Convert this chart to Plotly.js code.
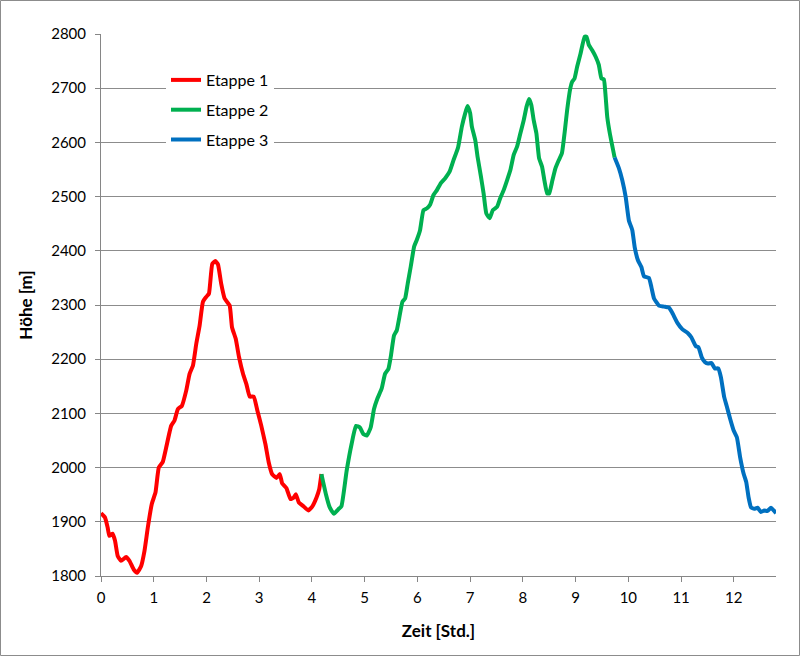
<!DOCTYPE html>
<html>
<head>
<meta charset="utf-8">
<script src="https://cdn.plot.ly/plotly-3.0.1.min.js"></script>
<style>
html,body{margin:0;padding:0;background:#fff;}
#chart{width:800px;height:656px;}
</style>
</head>
<body>
<div id="chart"></div>
<script>
// Etappe 1
const etappe1Zeit = [0.0,0.076,0.127,0.158,0.22,0.266,0.317,0.38,0.475,0.54,0.62,0.684,0.76,0.824,0.887,0.963,1.033,1.096,1.17,1.236,1.33,1.394,1.458,1.534,1.616,1.68,1.743,1.806,1.87,1.933,1.996,2.047,2.11,2.167,2.218,2.28,2.345,2.44,2.484,2.554,2.617,2.693,2.757,2.82,2.896,2.966,3.04,3.118,3.18,3.245,3.327,3.39,3.435,3.517,3.593,3.657,3.695,3.75,3.834,3.93,4.005,4.087,4.138,4.18];
const etappe1Hoehe = [1916,1908,1889,1874,1878,1865,1837,1828,1835,1828,1812,1806,1818,1846,1889,1933,1954,2000,2010,2037,2077,2087,2108,2114,2142,2173,2188,2228,2262,2306,2315,2321,2376,2381,2375,2339,2312,2299,2259,2238,2204,2173,2154,2131,2131,2105,2077,2043,2010,1988,1981,1988,1971,1962,1942,1945,1951,1936,1929,1921,1928,1945,1960,1988];

// Etappe 2
const etappe2Zeit = [4.18,4.265,4.34,4.417,4.5,4.56,4.658,4.753,4.835,4.91,4.974,5.04,5.114,5.177,5.24,5.323,5.386,5.45,5.494,5.557,5.608,5.67,5.716,5.767,5.817,5.874,5.938,5.988,6.05,6.115,6.177,6.24,6.305,6.37,6.444,6.527,6.61,6.68,6.77,6.843,6.907,6.95,7.0,7.033,7.097,7.14,7.205,7.255,7.306,7.37,7.43,7.51,7.57,7.636,7.7,7.763,7.826,7.89,7.953,8.016,8.07,8.117,8.16,8.205,8.256,8.307,8.364,8.408,8.46,8.5,8.56,8.617,8.68,8.74,8.8,8.84,8.9,8.935,8.98,9.03,9.094,9.17,9.207,9.25,9.315,9.38,9.44,9.49,9.536,9.57,9.6,9.65,9.74];
const etappe2Hoehe = [1988,1951,1926,1915,1923,1929,1994,2044,2077,2074,2062,2059,2074,2108,2127,2146,2173,2182,2204,2244,2253,2284,2306,2312,2340,2371,2408,2420,2438,2475,2478,2485,2503,2512,2525,2534,2546,2566,2590,2629,2654,2667,2654,2629,2604,2574,2537,2506,2469,2460,2475,2481,2497,2512,2530,2549,2577,2592,2617,2641,2666,2680,2669,2641,2617,2571,2555,2530,2506,2506,2530,2552,2567,2580,2625,2660,2700,2712,2718,2740,2764,2795,2795,2780,2770,2758,2743,2718,2716,2684,2647,2616,2572];

// Etappe 3
const etappe3Zeit = [9.74,9.822,9.885,9.95,10.01,10.075,10.12,10.18,10.247,10.297,10.39,10.437,10.487,10.58,10.68,10.77,10.83,10.93,11.026,11.13,11.197,11.28,11.33,11.39,11.45,11.514,11.577,11.64,11.704,11.755,11.818,11.87,11.93,11.995,12.058,12.12,12.185,12.236,12.28,12.325,12.388,12.45,12.515,12.578,12.64,12.705,12.755,12.8];
const etappe3Hoehe = [2572,2552,2530,2499,2456,2438,2407,2383,2370,2353,2350,2333,2312,2299,2297,2295,2286,2267,2255,2248,2240,2224,2222,2204,2195,2192,2193,2183,2183,2167,2130,2112,2090,2069,2056,2019,1989,1973,1945,1927,1924,1926,1918,1921,1920,1926,1921,1916];

const serienNamen = ["Etappe 1","Etappe 2","Etappe 3"];
const serienFarben = ["#FF0000","#00B050","#0070C0"];
const xTicks = [0,1,2,3,4,5,6,7,8,9,10,11,12];
const yTicks = [1800,1900,2000,2100,2200,2300,2400,2500,2600,2700,2800];

const xs = [etappe1Zeit, etappe2Zeit, etappe3Zeit];
const ys = [etappe1Hoehe, etappe2Hoehe, etappe3Hoehe];

const font = "Lato, 'Open Sans', sans-serif";

const traces = xs.map((x, i) => ({
  x: x, y: ys[i], type: 'scatter', mode: 'lines', name: serienNamen[i],
  legendgroup: 'g' + i,
  line: {color: serienFarben[i], width: 4, shape: 'spline', smoothing: 0.4}
}));

const L = 101, R = 776, T = 34, B = 576, W = 800, H = 656;
const pw = R - L, ph = B - T;

const layout = {
  width: W, height: H,
  margin: {l: L, r: W - R, t: T, b: H - B, pad: 0},
  paper_bgcolor: '#fff', plot_bgcolor: '#fff',
  font: {family: font, size: 15, color: '#000'},
  showlegend: true,
  legend: {
    x: (166 - L) / pw, xanchor: 'left',
    y: 1 - (63 - T) / ph, yanchor: 'top',
    bgcolor: 'rgba(255,255,255,1)',
    font: {family: font, size: 16, color: '#000'},
    tracegroupgap: 6,
    itemwidth: 30
  },
  xaxis: {
    range: [0, 12.8], tickvals: xTicks, ticktext: xTicks.map(String),
    showgrid: false, zeroline: false,
    showline: true, linecolor: '#868686', linewidth: 1,
    ticks: 'outside', ticklen: 5, tickcolor: '#868686',
    ticklabelstandoff: 3,
    tickfont: {family: font, size: 15, color: '#000'},
    title: {text: '<b>Zeit [Std.]</b>', font: {family: font, size: 17, color: '#000'}, standoff: 20}
  },
  yaxis: {
    range: [1800, 2800], tickvals: yTicks, ticktext: yTicks.map(String),
    showgrid: true, gridcolor: '#8c8c8c', gridwidth: 1, zeroline: false,
    showline: true, linecolor: '#868686', linewidth: 1,
    ticks: 'outside', ticklen: 5, tickcolor: '#868686',
    ticklabelstandoff: 6,
    tickfont: {family: font, size: 15, color: '#000'},
    title: {text: '<b>Höhe [m]</b>', font: {family: font, size: 17, color: '#000'}, standoff: 14}
  },
  shapes: [{
    type: 'rect', xref: 'paper', yref: 'paper',
    x0: (0.5 - L) / pw, x1: (W - 0.5 - L) / pw,
    y0: (B - (H - 0.5)) / ph, y1: (B - 0.5) / ph,
    line: {color: '#8c8c8c', width: 1}, fillcolor: 'rgba(0,0,0,0)', layer: 'below'
  }]
};

Plotly.newPlot('chart', traces, layout, {displayModeBar: false, staticPlot: true});
</script>
</body>
</html>
